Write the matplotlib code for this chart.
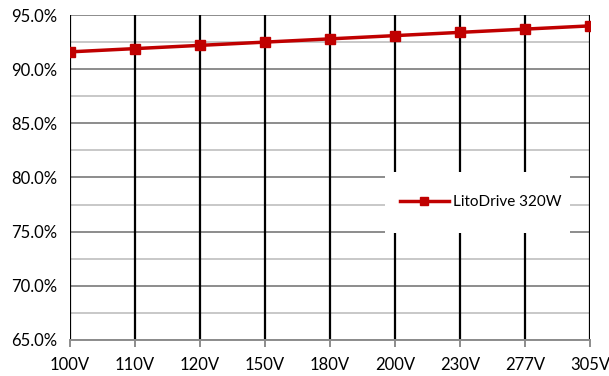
import numpy as np
from matplotlib import pyplot as plt
from matplotlib.patches import Rectangle
from matplotlib.ticker import FuncFormatter, MultipleLocator

voltajes = ['100V', '110V', '120V', '150V', '180V', '200V', '230V', '277V', '305V']
eficiencia = [91.6, 91.9, 92.2, 92.5, 92.8, 93.1, 93.4, 93.7, 94.0]
serie = 'LitoDrive 320W'

plt.rcParams['font.family'] = ['Lato', 'DejaVu Sans']

fig = plt.figure(figsize=(6.09, 3.76), dpi=100)
ax = fig.add_axes([0.115, 0.096, 0.854, 0.864])

x = np.arange(len(voltajes))

# lineas verticales negras en cada categoria
for xi in x:
    ax.axvline(xi, color='black', lw=1.6, zorder=1)

ax.plot(x, eficiencia, color='#c00000', lw=2.5, marker='s', ms=7.5,
        label=serie, zorder=3)

ax.set_xlim(0, len(voltajes) - 1)
ax.set_ylim(65, 95)
ax.yaxis.set_major_locator(MultipleLocator(5))
ax.yaxis.set_minor_locator(MultipleLocator(2.5))
ax.yaxis.set_major_formatter(FuncFormatter(lambda v, p: '%.1f%%' % v))
ax.grid(axis='y', which='major', color='#8c8c8c', lw=1.4)
ax.grid(axis='y', which='minor', color='#c8c8c8', lw=1.4)
ax.set_axisbelow(True)

ax.set_xticks(x)
ax.set_xticklabels(voltajes)
ax.tick_params(axis='x', length=5, color='#8c8c8c', width=1.4, labelsize=12, pad=7)
ax.tick_params(axis='y', which='both', length=0, labelsize=12, pad=9)

for s in ['left', 'right', 'top']:
    ax.spines[s].set_visible(False)
ax.spines['bottom'].set_color('#8c8c8c')
ax.spines['bottom'].set_linewidth(1.4)

# fondo blanco de la leyenda
ax.add_patch(Rectangle((0.606, 0.329), 0.356, 0.188, transform=ax.transAxes,
                       facecolor='white', edgecolor='none', zorder=4))
leg = ax.legend(loc='center', bbox_to_anchor=(0.79, 0.423), frameon=False,
                fontsize=11, handlelength=3.2, handletextpad=0.3,
                markerscale=0.8, borderpad=0, borderaxespad=0)
leg.set_zorder(5)

plt.savefig('out.png', dpi=100)
